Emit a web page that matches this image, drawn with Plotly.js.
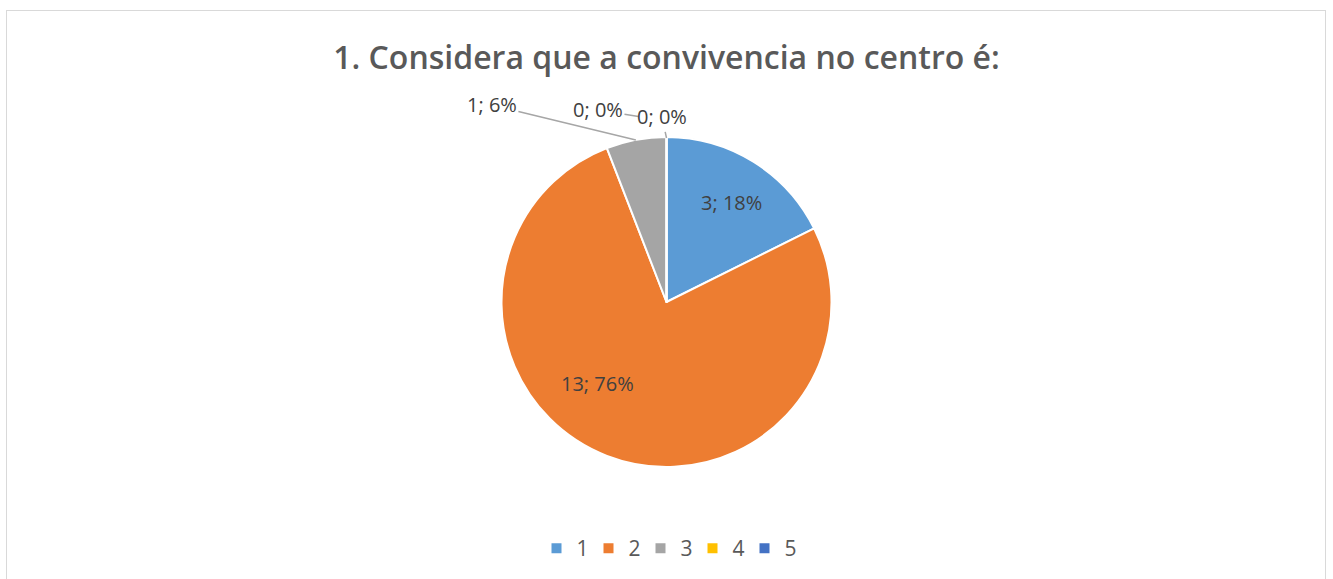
<!DOCTYPE html>
<html>
<head>
<meta charset="utf-8">
<script src="https://cdn.plot.ly/plotly-3.0.1.min.js"></script>
<style>
  html, body { margin: 0; padding: 0; background: #ffffff; }
  #frame { position: absolute; left: 6px; top: 10px; width: 1320px; height: 600px; border: 1px solid #d9d9d9; box-sizing: border-box; }
  #chart { position: absolute; left: 0; top: 0; width: 1333px; height: 579px; }
</style>
</head>
<body>
<div id="frame"></div>
<div id="chart"></div>
<script>
const categories = ['1', '2', '3', '4', '5'];
const counts = [3, 13, 1, 0, 0];
const sliceColors = ['#5B9BD5', '#ED7D31', '#A5A5A5', '#FFC000', '#4472C4'];
const chartTitle = '1. Considera que a convivencia no centro é:';

const total = counts.reduce((a, b) => a + b, 0);
const labelText = counts.map(v => v + '; ' + Math.round(100 * v / total) + '%');

const trace = {
  type: 'pie',
  labels: categories,
  values: counts,
  sort: false,
  direction: 'clockwise',
  rotation: 0,
  marker: { colors: sliceColors, line: { color: '#ffffff', width: 2 } },
  textinfo: 'none',
  textposition: 'none',
  hoverinfo: 'label+value+percent',
  showlegend: true
};

const labelFont = { family: 'Open Sans, sans-serif', size: 20, color: '#404040' };

// data label placement (paper coordinates); leader lines for the small slices
const labelPlacement = [
  { i: 0, x: 0.549, y: 0.803 },
  { i: 1, x: 0.448, y: 0.2545 },
  { i: 2, x: 0.369, y: 1.097, px: 0.477, py: 0.991 },
  { i: 3, x: 0.4486, y: 1.082, px: 0.479, py: 1.062 },
  { i: 4, x: 0.4966, y: 1.061, px: 0.5, py: 0.997 }
];
const annotations = labelPlacement.map(o => {
  if (o.px === undefined) {
    return { xref: 'paper', yref: 'paper', x: o.x, y: o.y, text: labelText[o.i],
      showarrow: false, font: labelFont, xanchor: 'center', yanchor: 'middle' };
  }
  return {
    xref: 'paper', yref: 'paper',
    x: o.px, y: o.py,
    ax: (o.x - o.px) * 1333, ay: -(o.y - o.py) * 330,
    text: labelText[o.i],
    showarrow: true, arrowhead: 0, arrowwidth: 1.5, arrowcolor: '#a6a6a6',
    standoff: 0, startstandoff: 0,
    font: labelFont
  };
});

const layout = {
  width: 1333, height: 579,
  margin: { l: 0, r: 0, t: 137, b: 112 },
  paper_bgcolor: 'rgba(0,0,0,0)',
  plot_bgcolor: 'rgba(0,0,0,0)',
  title: {
    text: chartTitle,
    x: 0.5, xanchor: 'center',
    y: 0.901, yref: 'container', yanchor: 'middle',
    font: { family: 'Open Sans, sans-serif', size: 32, weight: 600, color: '#595959' }
  },
  legend: {
    orientation: 'h', x: 0.5, xanchor: 'center', y: -0.185, yanchor: 'top',
    font: { family: 'Open Sans, sans-serif', size: 21, color: '#595959' },
    itemwidth: 30, entrywidth: 7, entrywidthmode: 'pixels', traceorder: 'normal'
  },
  annotations: annotations,
  showlegend: true
};

Plotly.newPlot('chart', [trace], layout, { displayModeBar: false, staticPlot: true });
</script>
</body>
</html>
